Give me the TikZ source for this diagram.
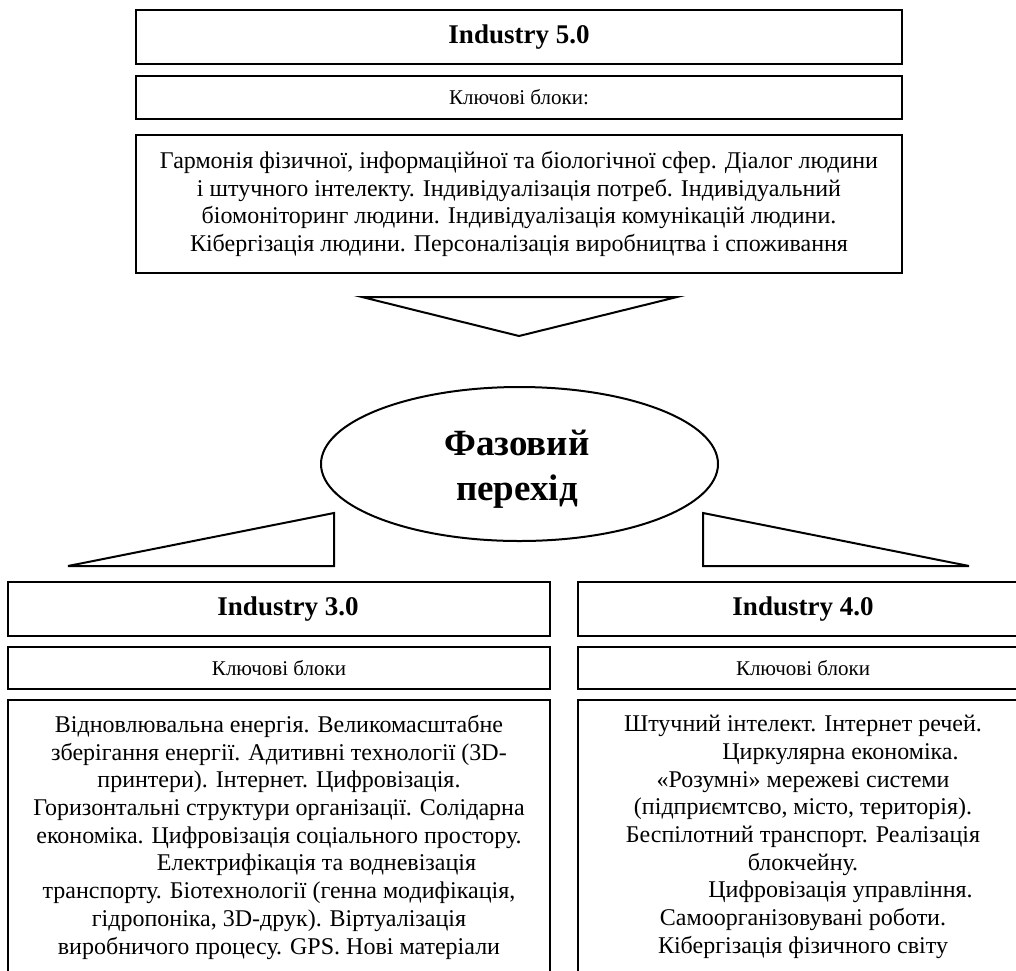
\documentclass[tikz,border=0pt]{standalone}
\usepackage{fontspec}
\setmainfont{Liberation Serif}
\usetikzlibrary{shapes.geometric}
\tikzset{
  frame/.style={draw=black, line width=2.4pt, inner sep=0pt},
  tri/.style={draw=black, line width=2pt, line join=miter},
  headtxt/.style={font=\fontsize{27}{31}\selectfont\bfseries},
  keytxt/.style={font=\fontsize{21}{25}\selectfont},
  bodytxt/.style={font=\fontsize{24}{27.7}\selectfont, align=center, inner sep=0pt},
}
\begin{document}
\begin{tikzpicture}[x=1pt,y=-1pt]
\useasboundingbox (0,0) rectangle (1016,970);
% top column
\node[frame, headtxt, minimum width=766, minimum height=54] (t1) at (519,37) {Industry 5.0};
\node[frame, keytxt, minimum width=766, minimum height=43] (t2) at (519,97.5) {Ключові блоки:};
\node[frame, minimum width=766, minimum height=138] (t3) at (519,204) {};
\node[bodytxt] (t3t) at (519,204) {Гармонія фізичної, інформаційної та біологічної сфер. Діалог людини\\
і штучного інтелекту. Індивідуалізація потреб. Індивідуальний\\
біомоніторинг людини. Індивідуалізація комунікацій людини.\\
Кібергізація людини. Персоналізація виробництва і споживання};
% down triangle
\draw[tri] (362,297) -- (677,297) -- (519,336) -- cycle;
% ellipse
\node[draw=black, line width=2pt, ellipse, minimum width=397, minimum height=154, inner sep=0pt] (ph) at (519.5,464) {};
\node[align=center, inner sep=0pt, font=\fontsize{37}{45}\selectfont\bfseries] (pht) at (517,469) {Фазовий\\перехід};
% side triangles
\draw[tri] (68,566) -- (334,513) -- (334,566) -- cycle;
\draw[tri] (703,513) -- (703,566) -- (969,566) -- cycle;
% left column
\node[frame, minimum width=542, minimum height=54] (l1) at (279,609) {};
\node[headtxt, inner sep=0pt] (l1t) at (288,609) {Industry 3.0};
\node[frame, keytxt, minimum width=542, minimum height=42] (l2) at (279,668) {Ключові блоки};
\node[frame, minimum width=542, minimum height=280, anchor=north] (l3) at (279,699) {};
\node[bodytxt, anchor=north] (l3t) at (279,715) {Відновлювальна енергія. Великомасштабне\\
зберігання енергії. Адитивні технології (3D-\\
принтери). Інтернет. Цифровізація.\\
Горизонтальні структури організації. Солідарна\\
економіка. Цифровізація соціального простору.\\
\hspace*{75pt}Електрифікація та водневізація\\
транспорту. Біотехнології (генна модифікація,\\
гідропоніка, 3D-друк). Віртуалізація\\
виробничого процесу. GPS. Нові матеріали};
% right column
\node[frame, headtxt, minimum width=450, minimum height=54] (r1) at (803,609) {Industry 4.0};
\node[frame, keytxt, minimum width=450, minimum height=42] (r2) at (803,668) {Ключові блоки};
\node[frame, minimum width=450, minimum height=280, anchor=north] (r3) at (803,699) {};
\node[bodytxt, anchor=north] (r3t) at (803,715) {Штучний інтелект. Інтернет речей.\\
\hspace*{75pt}Циркулярна економіка.\\
«Розумні» мережеві системи\\
(підприємтсво, місто, територія).\\
Беспілотний транспорт. Реалізація\\
блокчейну.\\
\hspace*{75pt}Цифровізація управління.\\
Самоорганізовувані роботи.\\
Кібергізація фізичного світу};
\end{tikzpicture}
\end{document}
